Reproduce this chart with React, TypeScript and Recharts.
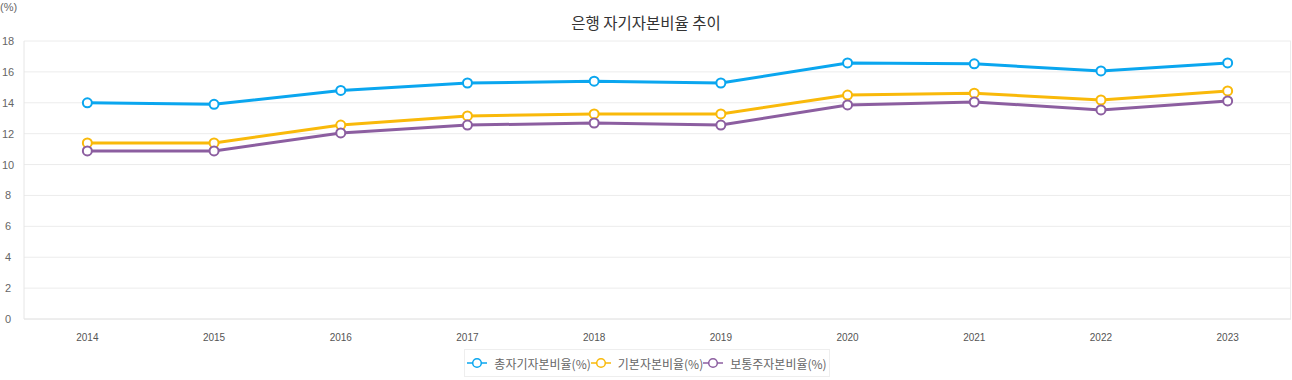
import React from 'react';
import { LineChart, Line, XAxis, YAxis, CartesianGrid } from 'recharts';

const years = ['2014', '2015', '2016', '2017', '2018', '2019', '2020', '2021', '2022', '2023'];
const totalRatio = [14.0, 13.9, 14.8, 15.28, 15.4, 15.28, 16.58, 16.52, 16.06, 16.58];
const tier1Ratio = [11.4, 11.4, 12.56, 13.15, 13.28, 13.28, 14.5, 14.62, 14.18, 14.77];
const commonRatio = [10.88, 10.88, 12.05, 12.56, 12.69, 12.56, 13.86, 14.05, 13.54, 14.12];
const yTicks = [0, 2, 4, 6, 8, 10, 12, 14, 16, 18];
const seriesNames = ['총자기자본비율(%)', '기본자본비율(%)', '보통주자본비율(%)'];
const seriesKeys = ['total', 'tier1', 'common'];
const colors = ['#0aa6ef', '#f9b90a', '#8c5ea0'];
const title = '은행 자기자본비율 추이';
const unitLabel = '(%)';

const data = years.map((y, i) => ({
  year: y,
  total: totalRatio[i],
  tier1: tier1Ratio[i],
  common: commonRatio[i],
}));

const FONT = '"Liberation Sans", "Noto Sans CJK KR", sans-serif';

const YTick = (props: any) => {
  const { y, payload } = props;
  return (
    <text x={8} y={y} dy={4} textAnchor="middle" fontSize={11} fill="#666" fontFamily={FONT}>
      {payload.value}
    </text>
  );
};

const XTick = (props: any) => {
  const { x, y, payload } = props;
  return (
    <text x={x} y={y} dy={14} textAnchor="middle" fontSize={10} fill="#555" fontFamily={FONT}>
      {payload.value}
    </text>
  );
};

const LegendIcon = ({ color }: { color: string }) => (
  <svg width={20} height={14} style={{ verticalAlign: 'middle' }}>
    <line x1={0} y1={7} x2={20} y2={7} stroke={color} strokeWidth={1.5} />
    <circle cx={10} cy={7} r={4.3} fill="#fff" stroke={color} strokeWidth={1.5} />
  </svg>
);

const PAD = 1267 / 20;

export default function App() {
  return (
    <div style={{ position: 'absolute', left: 0, top: 0, width: 1292, height: 380, background: '#fff', fontFamily: FONT }}>
      <div style={{ position: 'absolute', left: 0, top: 0, fontSize: 11, color: '#666', lineHeight: '14px' }}>{unitLabel}</div>
      <div style={{ position: 'absolute', left: 0, width: 1292, top: 11, textAlign: 'center', fontSize: 15.5, color: '#333', fontFamily: '"Noto Sans CJK KR", sans-serif', lineHeight: '22px' }}>{title}</div>
      <LineChart width={1292} height={380} data={data} margin={{ top: 41, right: 1, left: 0, bottom: 0 }}>
        <CartesianGrid
          stroke="#ececec"
          verticalCoordinatesGenerator={(p: any) => [p.offset.left + p.offset.width - 0.5]}
        />
        <XAxis dataKey="year" height={61} tick={<XTick />} tickLine={false} axisLine={{ stroke: '#e6e6e6' }} interval={0} padding={{ left: PAD, right: PAD }} />
        <YAxis width={24} domain={[0, 18]} ticks={yTicks} tick={<YTick />} tickLine={false} axisLine={{ stroke: '#e6e6e6' }} />
        {seriesKeys.map((k, i) => (
          <Line
            key={k}
            type="linear"
            dataKey={k}
            stroke={colors[i]}
            strokeWidth={3}
            dot={{ r: 4.5, fill: '#fff', stroke: colors[i], strokeWidth: 2 }}
            isAnimationActive={false}
          />
        ))}
      </LineChart>
      <div style={{ position: 'absolute', left: 464, top: 349, width: 366, height: 28, border: '1px solid #eee', boxSizing: 'border-box', display: 'flex', alignItems: 'center', justifyContent: 'center', fontSize: 12, color: '#666', fontFamily: '"Noto Sans CJK KR", sans-serif' }}>
        {seriesNames.map((n, i) => (
          <span key={n} style={{ display: 'inline-flex', alignItems: 'center' }}>
            <LegendIcon color={colors[i]} />
            <span style={{ marginLeft: 7 }}>{n}</span>
          </span>
        ))}
      </div>
    </div>
  );
}
